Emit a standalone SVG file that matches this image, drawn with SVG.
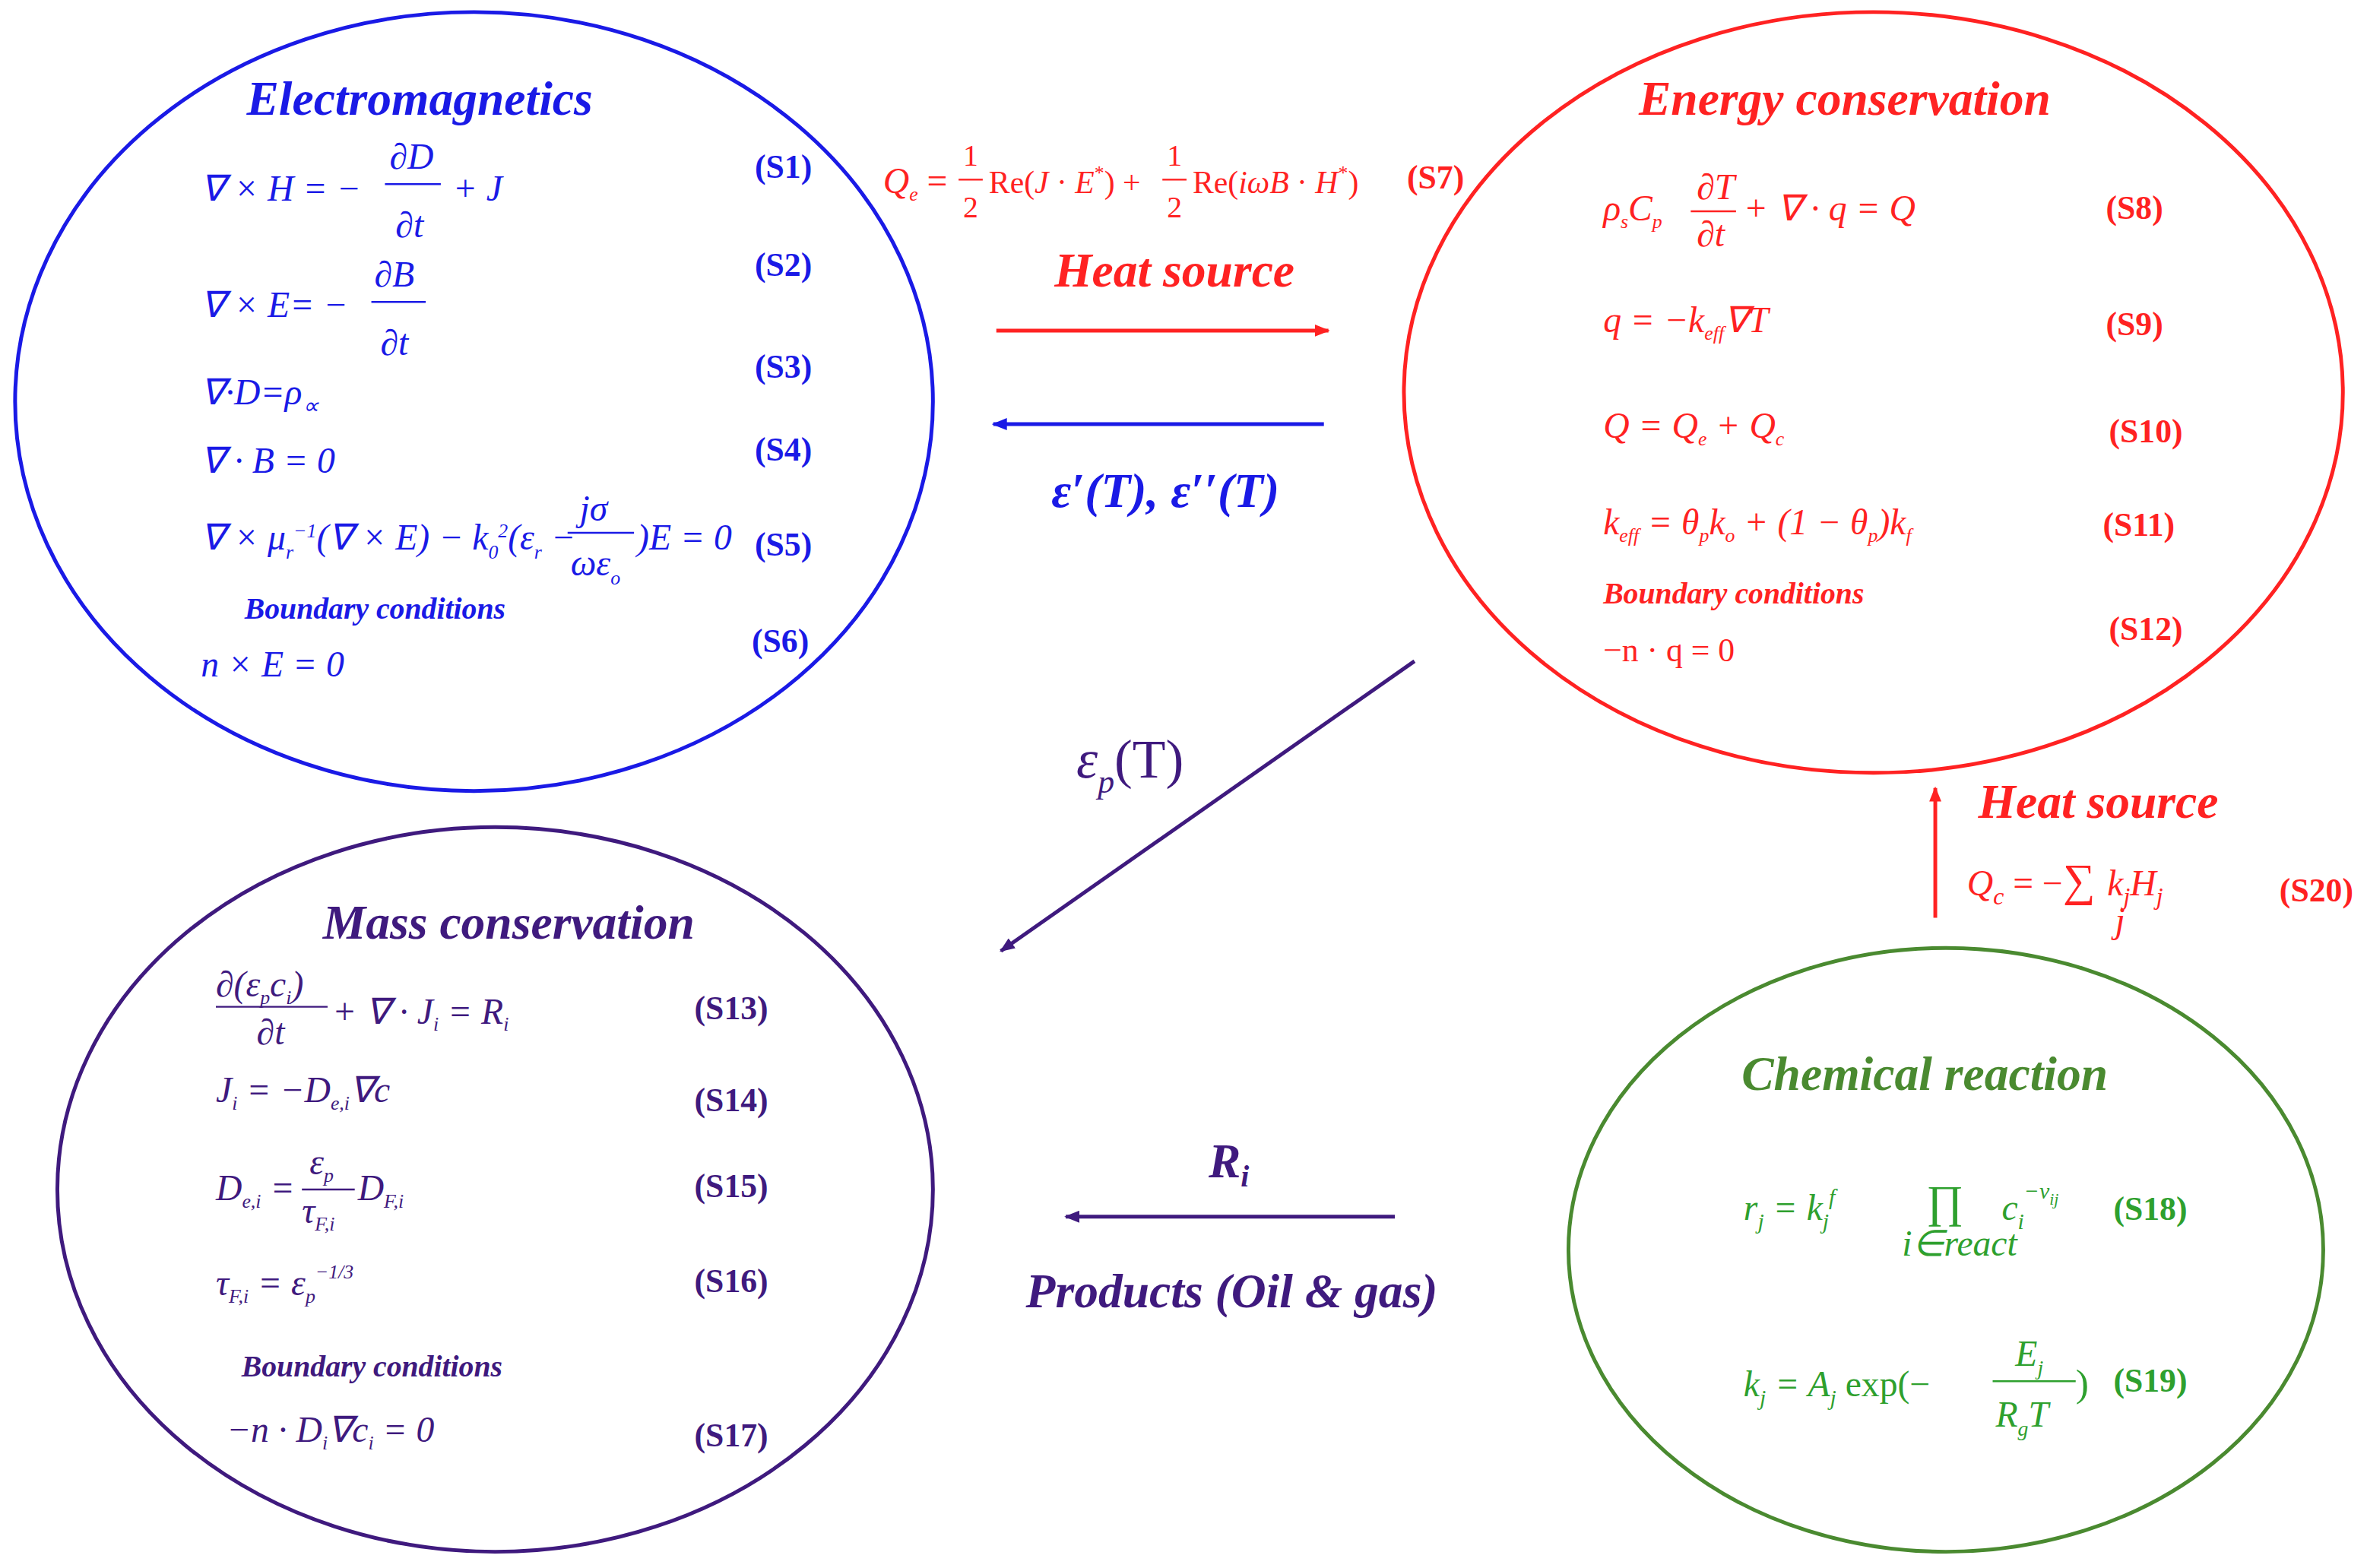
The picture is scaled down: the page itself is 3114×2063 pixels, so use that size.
<svg xmlns="http://www.w3.org/2000/svg" width="3114" height="2063" viewBox="0 0 3114 2063">
<style>
text{font-family:"Liberation Serif",serif}
.t{font-weight:bold;font-style:italic;font-size:32px;text-anchor:middle}
.e{font-style:italic;font-size:24px}
.s{font-weight:bold;font-size:22px}
.bc{font-weight:bold;font-style:italic;font-size:20px}
.b{fill:#1a1ae6}.r{fill:#ff2222}.p{fill:#3f1a7e}.g{fill:#2ea02e}.gt{fill:#4a8a30}
.fl{stroke-width:1.2}
</style>
<defs>
<marker id="ar" markerWidth="10" markerHeight="8" refX="9" refY="4" orient="auto" markerUnits="userSpaceOnUse"><path d="M0,0L10,4L0,8z" fill="#ff2222"/></marker>
<marker id="ab" markerWidth="10" markerHeight="8" refX="9" refY="4" orient="auto" markerUnits="userSpaceOnUse"><path d="M0,0L10,4L0,8z" fill="#1a1ae6"/></marker>
<marker id="ap" markerWidth="10" markerHeight="8" refX="9" refY="4" orient="auto" markerUnits="userSpaceOnUse"><path d="M0,0L10,4L0,8z" fill="#3f1a7e"/></marker>
</defs>
<rect width="3114" height="2063" fill="#fff"/>
<g transform="scale(1.986)">
<g id="electromagnetics">
<ellipse cx="314" cy="266" rx="304" ry="258" fill="none" stroke="#1a1ae6" stroke-width="2.5"/>
<text class="t b" x="278" y="76">Electromagnetics</text>
<g class="b">
<text class="e" x="133" y="133">∇ × H = −</text><text class="e" x="258" y="112">∂D</text><line class="fl" x1="255" y1="122" x2="292" y2="122" stroke="#1a1ae6"/><text class="e" x="262" y="157">∂t</text><text class="e" x="300" y="133">+ J</text>
<text class="e" x="133" y="210">∇ × E= −</text><text class="e" x="248" y="190">∂B</text><line class="fl" x1="246" y1="200" x2="282" y2="200" stroke="#1a1ae6"/><text class="e" x="252" y="235">∂t</text>
<text class="e" x="133" y="268">∇·D=ρ<tspan font-size="15" dy="6">∝</tspan></text>
<text class="e" x="133" y="313">∇ · B = 0</text>
<text class="e" x="133" y="364" font-size="22">∇ × μ<tspan font-size="13" dy="6">r</tspan><tspan font-size="13" dy="-14">−1</tspan><tspan dy="8">(∇ × E) − k</tspan><tspan font-size="13" dy="6">0</tspan><tspan font-size="13" dy="-14">2</tspan><tspan dy="8">(ε</tspan><tspan font-size="13" dy="6">r</tspan><tspan dy="-6"> −</tspan></text>
<text class="e" x="384" y="345" font-size="22">jσ</text><line class="fl" x1="376" y1="353" x2="420" y2="353" stroke="#1a1ae6"/><text class="e" x="378" y="381" font-size="22">ωε<tspan font-size="13" dy="6">o</tspan></text><text class="e" x="422" y="364" font-size="22">)E = 0</text>
<text class="bc" x="162" y="410">Boundary conditions</text>
<text class="e" x="133" y="448">n × E = 0</text>
<text class="s" x="500" y="118">(S1)</text><text class="s" x="500" y="183">(S2)</text><text class="s" x="500" y="250">(S3)</text><text class="s" x="500" y="305">(S4)</text><text class="s" x="500" y="368">(S5)</text><text class="s" x="498" y="432">(S6)</text>
</g>
</g>
<g id="energy">
<ellipse cx="1241" cy="260" rx="311" ry="252" fill="none" stroke="#ff2222" stroke-width="2.5"/>
<text class="t r" x="1222" y="76">Energy conservation</text>
<g class="r">
<text class="e" x="1062" y="146" font-size="21">ρ<tspan font-size="13" dy="5">s</tspan><tspan dy="-5">C</tspan><tspan font-size="13" dy="5">p</tspan></text><text class="e" x="1124" y="132" font-size="21">∂T</text><line class="fl" x1="1120" y1="140" x2="1150" y2="140" stroke="#ff2222"/><text class="e" x="1124" y="163" font-size="21">∂t</text><text class="e" x="1155" y="146" font-size="21">+ ∇ · q = Q</text>
<text class="e" x="1062" y="220" font-size="21">q = −k<tspan font-size="13" dy="5">eff</tspan><tspan dy="-5">∇T</tspan></text>
<text class="e" x="1062" y="290" font-size="21">Q = Q<tspan font-size="13" dy="5">e</tspan><tspan dy="-5"> + Q</tspan><tspan font-size="13" dy="5">c</tspan></text>
<text class="e" x="1062" y="354" font-size="21">k<tspan font-size="13" dy="5">eff</tspan><tspan dy="-5"> = θ</tspan><tspan font-size="13" dy="5">p</tspan><tspan dy="-5">k</tspan><tspan font-size="13" dy="5">o</tspan><tspan dy="-5"> + (1 − θ</tspan><tspan font-size="13" dy="5">p</tspan><tspan dy="-5">)k</tspan><tspan font-size="13" dy="5">f</tspan></text>
<text class="bc" x="1062" y="400">Boundary conditions</text>
<text font-size="22" x="1062" y="438">−n · q = 0</text>
<text class="s" x="1395" y="145">(S8)</text><text class="s" x="1395" y="222">(S9)</text><text class="s" x="1397" y="293">(S10)</text><text class="s" x="1393" y="355">(S11)</text><text class="s" x="1397" y="424">(S12)</text>
</g>
</g>
<g id="mass">
<ellipse cx="328" cy="788" rx="290" ry="240" fill="none" stroke="#3f1a7e" stroke-width="2.5"/>
<text class="t p" x="337" y="622">Mass conservation</text>
<g class="p">
<text class="e" x="143" y="660" font-size="21">∂(ε<tspan font-size="13" dy="5">p</tspan><tspan dy="-5">c</tspan><tspan font-size="13" dy="5">i</tspan><tspan dy="-5">)</tspan></text><line class="fl" x1="143" y1="667" x2="217" y2="667" stroke="#3f1a7e"/><text class="e" x="170" y="692" font-size="21">∂t</text><text class="e" x="220" y="678" font-size="21">+ ∇ · J<tspan font-size="13" dy="5">i</tspan><tspan dy="-5"> = R</tspan><tspan font-size="13" dy="5">i</tspan></text>
<text class="e" x="143" y="730" font-size="21">J<tspan font-size="13" dy="5">i</tspan><tspan dy="-5"> = −D</tspan><tspan font-size="13" dy="5">e,i</tspan><tspan dy="-5">∇c</tspan></text>
<text class="e" x="143" y="795" font-size="21">D<tspan font-size="13" dy="5">e,i</tspan><tspan dy="-5"> =</tspan></text><text class="e" x="205" y="778" font-size="21">ε<tspan font-size="13" dy="5">p</tspan></text><line class="fl" x1="200" y1="788" x2="235" y2="788" stroke="#3f1a7e"/><text class="e" x="200" y="810" font-size="21">τ<tspan font-size="13" dy="5">F,i</tspan></text><text class="e" x="237" y="795" font-size="21">D<tspan font-size="13" dy="5">F,i</tspan></text>
<text class="e" x="143" y="858" font-size="21">τ<tspan font-size="13" dy="5">F,i</tspan><tspan dy="-5"> = ε</tspan><tspan font-size="13" dy="5">p</tspan><tspan font-size="13" dy="-16">−1/3</tspan></text>
<text class="bc" x="160" y="912">Boundary conditions</text>
<text class="e" x="150" y="955" font-size="21">−n · D<tspan font-size="13" dy="5">i</tspan><tspan dy="-5">∇c</tspan><tspan font-size="13" dy="5">i</tspan><tspan dy="-5"> = 0</tspan></text>
<text class="s" x="460" y="675">(S13)</text><text class="s" x="460" y="736">(S14)</text><text class="s" x="460" y="793">(S15)</text><text class="s" x="460" y="856">(S16)</text><text class="s" x="460" y="958">(S17)</text>
</g>
</g>
<g id="chemical">
<ellipse cx="1289" cy="828" rx="250" ry="200" fill="none" stroke="#4a8a30" stroke-width="2.5"/>
<text class="t gt" x="1275" y="722">Chemical reaction</text>
<g class="g">
<text class="e" x="1155" y="808" font-size="26">r<tspan font-size="15" dy="6">j</tspan><tspan dy="-6"> = k</tspan><tspan font-size="15" dy="6">j</tspan><tspan font-size="15" dy="-16">f</tspan></text>
<text x="1276" y="806" font-size="30">∏</text><text class="e" x="1260" y="832" font-size="13">i∈react</text>
<text class="e" x="1326" y="808" font-size="26">c<tspan font-size="15" dy="6">i</tspan><tspan font-size="15" dy="-20">−v</tspan><tspan font-size="11" dy="4">ij</tspan></text>
<text class="e" x="1155" y="925" font-size="26">k<tspan font-size="15" dy="6">j</tspan><tspan dy="-6"> = A</tspan><tspan font-size="15" dy="6">j</tspan><tspan dy="-6" font-style="normal"> exp(−</tspan></text>
<text class="e" x="1335" y="905" font-size="24">E<tspan font-size="14" dy="6">j</tspan></text><line class="fl" x1="1320" y1="915" x2="1375" y2="915" stroke="#2ea02e"/><text class="e" x="1322" y="945" font-size="24">R<tspan font-size="14" dy="6">g</tspan><tspan dy="-6">T</tspan></text><text x="1375" y="925" font-size="26">)</text>
<text class="s" x="1400" y="808">(S18)</text><text class="s" x="1400" y="922">(S19)</text>
</g>
</g>
<g id="connectors" stroke-width="2.5">
<line x1="660" y1="219" x2="880" y2="219" stroke="#ff2222" marker-end="url(#ar)"/>
<line x1="877" y1="281" x2="658" y2="281" stroke="#1a1ae6" marker-end="url(#ab)"/>
<line x1="937" y1="438" x2="663" y2="630" stroke="#3f1a7e" marker-end="url(#ap)"/>
<line x1="924" y1="806" x2="706" y2="806" stroke="#3f1a7e" marker-end="url(#ap)"/>
<line x1="1282" y1="608" x2="1282" y2="522" stroke="#ff2222" marker-end="url(#ar)"/>
</g>
<g id="labels">
<text class="e r" x="585" y="128" font-size="21">Q<tspan font-size="13" dy="5">e</tspan><tspan dy="-5" font-style="normal"> = </tspan></text>
<text class="r" x="638" y="110" font-size="20">1</text><line x1="635" y1="119" x2="651" y2="119" stroke="#ff2222" stroke-width="1.2"/><text class="r" x="638" y="144" font-size="20">2</text>
<text class="r" x="655" y="128" font-size="21">Re(<tspan font-style="italic">J</tspan> · <tspan font-style="italic">E</tspan><tspan font-size="13" dy="-9">*</tspan><tspan dy="9">) +</tspan></text>
<text class="r" x="773" y="110" font-size="20">1</text><line x1="770" y1="119" x2="786" y2="119" stroke="#ff2222" stroke-width="1.2"/><text class="r" x="773" y="144" font-size="20">2</text>
<text class="r" x="790" y="128" font-size="21">Re(<tspan font-style="italic">iωB</tspan> · <tspan font-style="italic">H</tspan><tspan font-size="13" dy="-9">*</tspan><tspan dy="9">)</tspan></text>
<text class="s r" x="932" y="125">(S7)</text>
<text class="t r" x="778" y="190">Heat source</text>
<text class="t b" x="772" y="336">ε′(T), ε′′(T)</text>
<text class="p" x="713" y="515" font-size="36"><tspan font-style="italic">ε</tspan><tspan font-size="22" font-style="italic" dy="10">p</tspan><tspan dy="-10">(T)</tspan></text>
<text class="t p" x="814" y="780">R<tspan font-size="20" dy="6">i</tspan></text>
<text class="t p" x="816" y="866">Products (Oil &amp; gas)</text>
<text class="t r" x="1390" y="542">Heat source</text>
<text class="e r" x="1303" y="593" font-size="28">Q<tspan font-size="16" dy="6">c</tspan><tspan dy="-6" font-style="normal"> = −</tspan><tspan font-style="normal" font-size="30">∑</tspan><tspan dx="8">k</tspan><tspan font-size="16" dy="6">j</tspan><tspan dy="-6">H</tspan><tspan font-size="16" dy="6">j</tspan></text>
<text class="e r" x="1401" y="618" font-size="14">j</text>
<text class="s r" x="1510" y="597">(S20)</text>
</g>
</g>
</svg>
